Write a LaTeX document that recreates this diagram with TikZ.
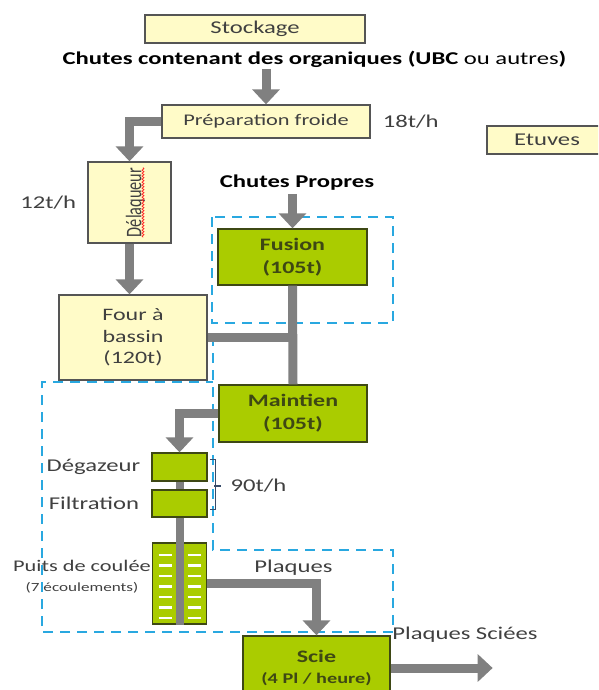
\documentclass[tikz,border=0pt]{standalone}
\usepackage{fontspec}
\setmainfont{Carlito}[FakeStretch=1.37]
\newfontfamily\fontdroit{Carlito}
\usepackage{xcolor}
\usepackage{tikz}
\usetikzlibrary{positioning, arrows.meta, calc, decorations.pathmorphing}

\definecolor{creme}{RGB}{255,251,200}
\definecolor{bordgris}{RGB}{85,85,85}
\definecolor{vertanis}{RGB}{170,204,0}
\definecolor{bordvert}{RGB}{62,72,20}
\definecolor{texte}{RGB}{64,64,64}
\definecolor{flux}{RGB}{128,128,128}
\definecolor{zone}{RGB}{41,168,224}
\definecolor{trait}{RGB}{55,75,105}

\begin{document}
\begin{tikzpicture}[
    x=1pt, y=-1pt,
    font=\fontsize{18}{22}\selectfont,
    boite/.style={
        draw=bordgris,
        line width=1.3pt,
        fill=creme,
        text=texte,
        align=center,
        inner sep=0pt
    },
    vert/.style={
        draw=bordvert,
        line width=1.3pt,
        fill=vertanis,
        text=bordvert,
        align=center,
        inner sep=0pt,
        font=\fontsize{17.5}{23}\selectfont\bfseries
    },
    etiq/.style={text=texte, inner sep=1pt},
    fleche/.style={draw=flux, line width=9pt, -{Triangle[length=15pt, width=27pt]}},
    tube/.style={draw=flux, line width=9pt},
    raie/.style={draw=white, line width=2.5pt},
    zonepointillee/.style={draw=zone, line width=2.4pt, dash pattern=on 10pt off 7pt},
    accolade/.style={draw=trait, line width=1.5pt}
]
\clip (0,0) rectangle (598,690);

% --- Zones en pointillés ---
\draw[zonepointillee] (212,217) rectangle (393,323);
\draw[zonepointillee] (213,336) -- (213,550) -- (393,550) -- (393,632)
    -- (42,632) -- (42,382) -- (213,382);

% --- Nœuds du haut ---
\node[boite, minimum width=220pt, minimum height=28pt] (stock) at (255,29) {Stockage};

\node[inner sep=0pt, font=\fontsize{18}{22}\selectfont\bfseries] (chutes) at (314.5,59)
    {Chutes contenant des organiques (UBC {\mdseries ou autres})};

\node[boite, minimum width=208pt, minimum height=33pt, font=\fontsize{16.3}{20}\selectfont]
    (prep) at (266,121.5) {Préparation froide};
\node[etiq, right=11pt of prep] (debit1) {18t/h};

\node[boite, minimum width=120pt, minimum height=28pt] (etuves) at (547,140) {Etuves};

\node[boite, minimum width=83pt, minimum height=81pt] (delaq) at (129.5,202.5) {};
\node[inner sep=0pt, text=texte] (delaqtxt) at ([xshift=6pt]delaq.center)
    {\scalebox{1.37}[1]{\rotatebox{90}{\fontdroit\fontsize{16.3}{18}\selectfont Délaqueur}}};
\node[etiq, left=10pt of delaq] (debit2) {12t/h};

\node[boite, minimum width=148pt, minimum height=85pt, font=\fontsize{17.5}{21.5}\selectfont]
    (bassin) at (133,337.5) {Four à\\bassin\\(120t)};

% --- Ligne propre ---
\node[inner sep=0pt, font=\fontsize{18}{22}\selectfont\bfseries] (propres) at (297,183) {Chutes Propres};

\node[vert, minimum width=149pt, minimum height=56pt] (fusion) at (292.5,257) {Fusion\\(105t)};

\node[vert, minimum width=148pt, minimum height=57pt] (maintien) at (293,413.5) {Maintien\\(105t)};

\node[vert, minimum width=55pt, minimum height=28pt] (degaz) at (179.5,467) {};
\node[vert, minimum width=55pt, minimum height=27pt] (filtr) at (179.5,503.5) {};
\node[vert, minimum width=54pt, minimum height=81pt] (puits) at (179.5,583.5) {};

\node[vert, minimum width=147pt, minimum height=64pt] (scie) at (316.5,668)
    {Scie\\[-2pt]{\fontsize{14.8}{18}\selectfont (4 Pl / heure)}};

% --- Etiquettes ---
\node[etiq, left=10pt of degaz] (ldegaz) {Dégazeur};
\node[etiq, left=11pt of filtr] (lfiltr) {Filtration};
\node[etiq, font=\fontsize{16.3}{20}\selectfont] (lpuits) at (82,566) {Puits de coulée};
\node[etiq, font=\fontsize{12.5}{15}\selectfont] (lecoul) at (82,588) {(7 écoulements)};
\node[etiq] (lplaques) at (293.5,568) {Plaques};
\node[etiq] (lsciees) at (465,635) {Plaques Sciées};
\node[etiq] (debit3) at (258.5,486) {90t/h};

% --- Flux ---
\draw[fleche, shorten <=2pt] (chutes.south -| prep.north) -- (prep.north);
\draw[fleche] (prep.west) -| (delaq.north);
\draw[fleche] (delaq.south) -- (delaq.south |- bassin.north);
\draw[fleche, shorten <=3pt] (propres.south -| fusion.north) -- (fusion.north);
\draw[tube] (fusion.south) -- (maintien.north);
\draw[tube] (bassin.east) -- (bassin.east -| fusion.south);
\draw[fleche] (maintien.west) -| (degaz.north);
\draw[tube, line width=8pt] (degaz.south) -- (filtr.north);
\draw[tube, line width=8pt] (filtr.south) -- (puits.south);
\foreach \k in {0,...,6} {
    \draw[raie] ($(puits.center)+(-21,{-28.5+10.5*\k})$) -- ++(13,0);
    \draw[raie] ($(puits.center)+(8,{-28.5+10.5*\k})$) -- ++(13,0);
}
\draw[fleche] (puits.east) -| (scie.north);
\coordinate (sortie) at ($(scie.east)+(102,0)$);
\draw[fleche] (scie.east) -- (sortie);

% --- Accolade et soulignement ---
\draw[accolade] ([xshift=2pt, yshift=-7pt]degaz.north east) -- ++(6,0)
    |- ([xshift=2pt, yshift=8pt]filtr.south east);
\draw[accolade] ([xshift=-15pt]debit3.west) -- ([xshift=-8pt]debit3.west);
\draw[red!85, line width=0.8pt, decorate, decoration={snake, amplitude=0.9pt, segment length=3pt}]
    ([xshift=7.5pt]delaqtxt.north) -- ([xshift=7.5pt]delaqtxt.south);

\end{tikzpicture}
\end{document}
